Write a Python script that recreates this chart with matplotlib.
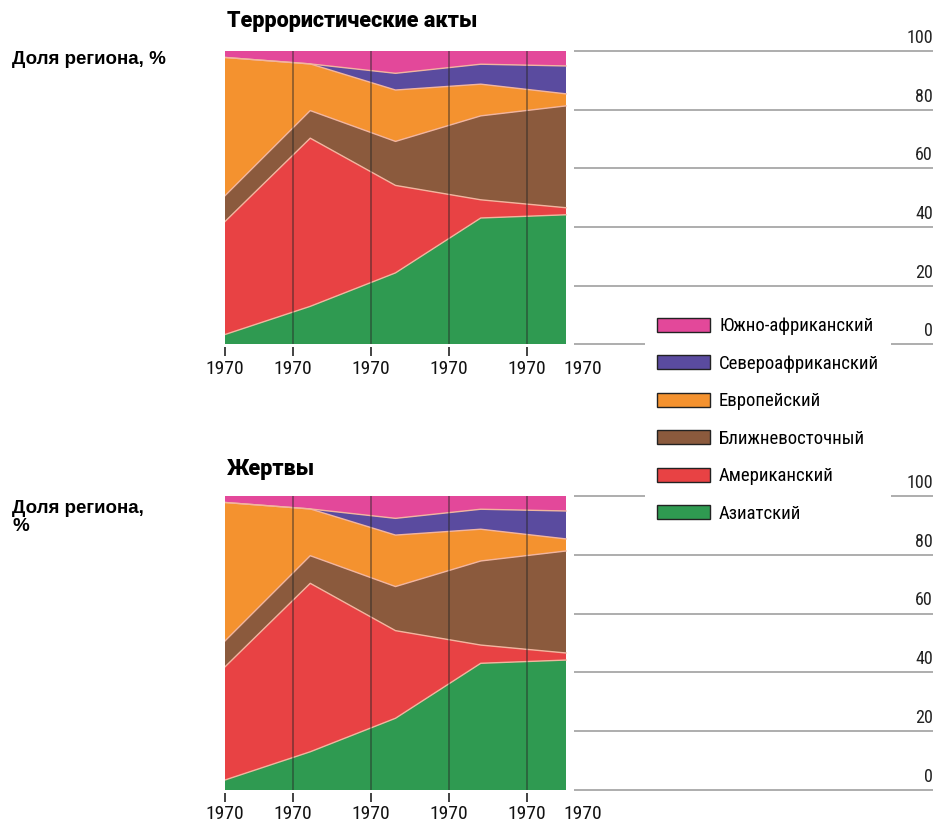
import numpy as np
import matplotlib
matplotlib.use('Agg')
import matplotlib.pyplot as plt
from matplotlib.patches import Patch
from matplotlib import font_manager
from matplotlib.ft2font import FT2Font

# периоды (5 точек) и доли регионов, %, снизу вверх
periods = [0, 1, 2, 3, 4]
asia = [3.4, 13.0, 24.4, 43.1, 44.2]
america = [38.5, 57.3, 29.8, 6.2, 2.4]
mideast = [8.8, 9.4, 15.0, 28.6, 34.7]
europe = [47.1, 15.9, 17.5, 10.8, 4.1]
n_africa = [0.0, 0.0, 5.7, 6.8, 9.5]
s_africa = [2.2, 4.4, 7.6, 4.5, 5.1]

# на картинке обе панели показывают одинаковые доли
attacks = [asia, america, mideast, europe, n_africa, s_africa]
victims = [asia, america, mideast, europe, n_africa, s_africa]

regions = ['Азиатский', 'Американский', 'Ближневосточный',
           'Европейский', 'Североафриканский', 'Южно-африканский']
colors = ['#2f9a51', '#e84244', '#8b5a3d', '#f4922f', '#5a4b9f', '#e3489a']

tick_pos = [0, 0.8, 1.71, 2.63, 3.54, 4.2]
tick_labels = ['1970'] * 6
y_ticks = [0, 20, 40, 60, 80, 100]

# шрифты: нужен кириллический узкий и очень жирный
names = {f.name for f in font_manager.fontManager.ttflist}


def has_cyrillic(fname):
    try:
        return ord('Ж') in FT2Font(fname).get_charmap()
    except Exception:
        return False


def first_font(options, default, weight='normal'):
    for n in options:
        if n not in names:
            continue
        try:
            f = font_manager.findfont(font_manager.FontProperties(family=n, weight=weight),
                                      fallback_to_default=False)
        except Exception:
            continue
        if has_cyrillic(f):
            return n
    return default


narrow = first_font(['Liberation Sans Narrow', 'Roboto Condensed', 'PT Sans Narrow',
                     'Fira Sans Condensed', 'IBM Plex Sans Condensed', 'Open Sans Condensed',
                     'Barlow Semi Condensed', 'Asap Condensed'], 'Liberation Sans')
black = first_font(['Arial Black', 'Roboto', 'Inter', 'Noto Sans'], 'DejaVu Sans', 'black')
narrow_fam = [narrow, 'DejaVu Sans']
black_fam = [black, 'DejaVu Sans']

W, H = 938, 823
fig = plt.figure(figsize=(W / 100, H / 100), dpi=100)


def px_axes(left, top, right, bottom):
    return fig.add_axes([left / W, 1 - bottom / H, (right - left) / W, (bottom - top) / H])


# данные занимают 225..566 px, справа до 933 px идут линии сетки
x_max = (933 - 225) / (566 - 225) * periods[-1]
grid_start = (574 - 225) / (566 - 225) * periods[-1]


def draw_panel(ax, series):
    ax.stackplot(periods, *series, colors=colors, linewidth=0)
    cum = np.cumsum(np.array(series), axis=0)
    for row in cum[:-1]:
        ax.plot(periods, row, color='#f2b59f', lw=1.0)
    for t in tick_pos[1:-1]:
        ax.axvline(t, color='#262626', alpha=0.45, lw=1.4)
    ax.hlines(y_ticks, grid_start, x_max, color='#a0a0a0', lw=1.2, clip_on=False)
    for v in y_ticks:
        ax.annotate(str(v), xy=(1, v), xycoords=('axes fraction', 'data'),
                    xytext=(0, 3), textcoords='offset points', ha='right', va='bottom',
                    family=narrow_fam, fontsize=13, color='#222222')
    ax.set_xlim(0, x_max)
    ax.set_ylim(0, 100)
    for s in ax.spines.values():
        s.set_visible(False)
    ax.spines['bottom'].set_position(('outward', 2))
    ax.set_yticks([])
    ax.set_xticks(tick_pos)
    ax.set_xticklabels(tick_labels, family=narrow_fam, fontsize=14, color='#111111')
    ax.tick_params(axis='x', length=6.5, width=1.2, color='#222222', pad=2.5)
    ax.xaxis.get_major_ticks()[-1].tick1line.set_visible(False)


ax1 = px_axes(225, 51, 933, 344.5)
draw_panel(ax1, attacks)
ax2 = px_axes(225, 496, 933, 790)
draw_panel(ax2, victims)

fig.text(227 / W, 1 - 21 / H, 'Террористические акты', fontsize=15.5, family=black_fam,
         weight='black', va='center')
fig.text(227 / W, 1 - 469 / H, 'Жертвы', fontsize=15.5, family=black_fam,
         weight='black', va='center')
fig.text(12 / W, 1 - 60 / H, 'Доля региона, %', fontsize=13.5, family='Liberation Sans',
         weight='bold', va='center')
fig.text(12 / W, 1 - 500 / H, 'Доля региона,\n%', fontsize=13.5, family='Liberation Sans',
         weight='bold', va='top', linespacing=1.05)

handles = [Patch(facecolor=c, edgecolor='#222222', lw=1.0) for c in colors][::-1]
fig.legend(handles, regions[::-1], loc='upper left', bbox_to_anchor=(645 / W, 1 - 305 / H),
           frameon=True, facecolor='white', edgecolor='none', framealpha=1, fancybox=False,
           prop={'family': narrow_fam, 'size': 13.5}, handlelength=2.8, handleheight=0.75,
           handletextpad=0.5, labelspacing=1.04, borderpad=0.65, borderaxespad=0)

fig.savefig('out.png', dpi=100, facecolor='white')
